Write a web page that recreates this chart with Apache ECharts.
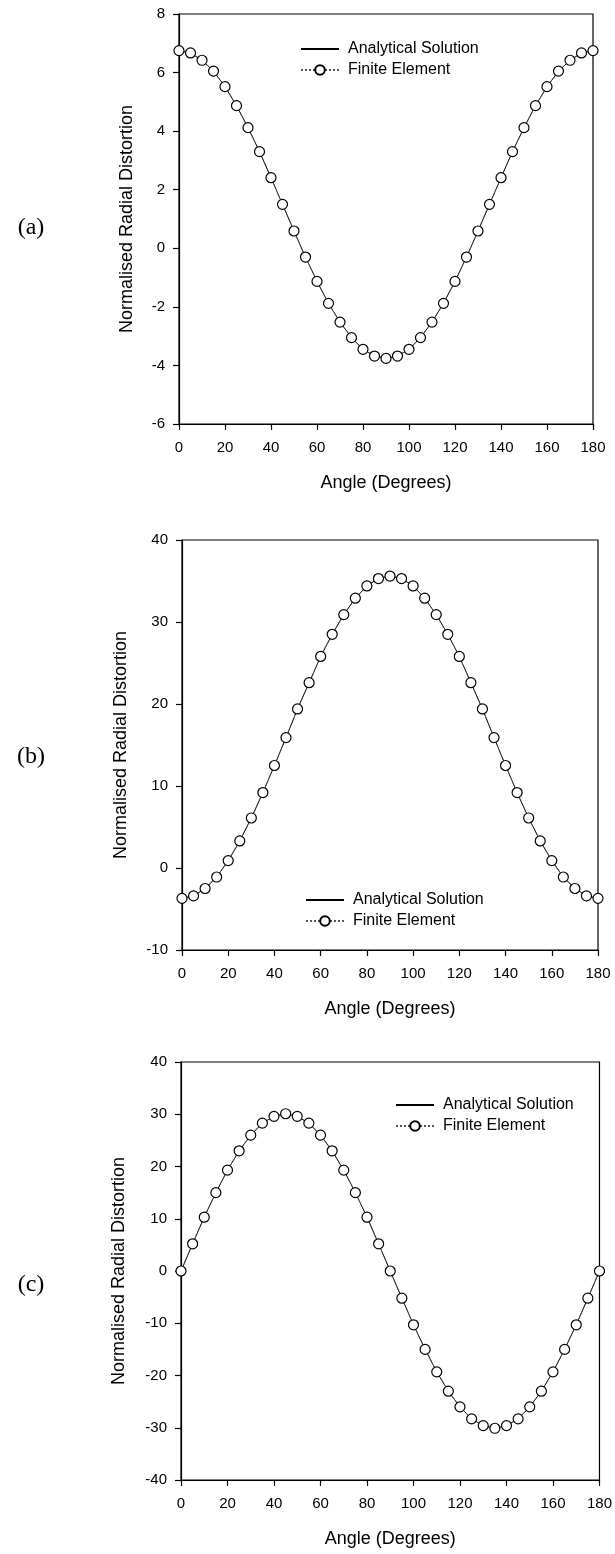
<!DOCTYPE html>
<html>
<head>
<meta charset="utf-8">
<script src="https://cdn.jsdelivr.net/npm/echarts@6/dist/echarts.min.js"></script>
<style>
html,body{margin:0;padding:0;background:#fff;}
#chart{width:615px;height:1554px;}
</style>
</head>
<body>
<div id="chart"></div>
<script>
// ---- data ----
const angles = [0,5,10,15,20,25,30,35,40,45,50,55,60,65,70,75,80,85,90,95,100,105,110,115,120,125,130,135,140,145,150,155,160,165,170,175,180];
const xTicks = [0,20,40,60,80,100,120,140,160,180];

const distortionA = [6.75,6.67,6.42,6.05,5.52,4.87,4.12,3.30,2.41,1.50,0.59,-0.30,-1.13,-1.88,-2.52,-3.05,-3.45,-3.68,-3.76,
                     -3.68,-3.45,-3.05,-2.52,-1.88,-1.13,-0.30,0.59,1.50,2.41,3.30,4.12,4.87,5.52,6.05,6.42,6.67,6.75];
const distortionB = [-3.7,-3.4,-2.5,-1.1,0.9,3.3,6.1,9.2,12.5,15.9,19.4,22.6,25.8,28.5,30.9,32.9,34.4,35.3,35.6,
                     35.3,34.4,32.9,30.9,28.5,25.8,22.6,19.4,15.9,12.5,9.2,6.1,3.3,0.9,-1.1,-2.5,-3.4,-3.7];
const distortionC = [0,5.2,10.3,15.0,19.3,23.0,26.0,28.3,29.6,30.1,29.6,28.3,26.0,23.0,19.3,15.0,10.3,5.2,0,
                     -5.2,-10.3,-15.0,-19.3,-23.0,-26.0,-28.3,-29.6,-30.1,-29.6,-28.3,-26.0,-23.0,-19.3,-15.0,-10.3,-5.2,0];

const yRanges = [ {min:-6, max:8, interval:2}, {min:-10, max:40, interval:10}, {min:-40, max:40, interval:10} ];
const panelLabels = ['(a)','(b)','(c)'];
const seriesNames = ['Analytical Solution','Finite Element'];
const xTitle = 'Angle (Degrees)';
const yTitle = 'Normalised Radial Distortion';

// ---- layout ----
const FONT = '"Liberation Sans", Arial, sans-serif';
const grids = [
  {left:179, top:14, width:414, height:410},
  {left:182, top:540, width:416, height:410},
  {left:181, top:1062, width:423, height:418}
];
const yNameGaps = [43, 52, 53];
const legendPos = [ {left:300, top:41}, {left:305, top:892}, {left:395, top:1097} ];
const labelPos = [ [31,228], [31,757], [31,1285] ];
const panelData = [distortionA, distortionB, distortionC];

const option = {
  animation:false,
  backgroundColor:'#fff',
  grid: grids.map(g => Object.assign({show:true, borderColor:'#000', borderWidth:1.2, backgroundColor:'transparent'}, g)),
  xAxis: grids.map((g,i) => ({
    type:'value', gridIndex:i, min:0, max:180, interval:20,
    axisLine:{show:true, onZero:false, lineStyle:{color:'#000', width:1.2}},
    axisTick:{show:true, inside:false, length:6, lineStyle:{color:'#000', width:1.2}},
    splitLine:{show:false},
    axisLabel:{color:'#000', fontSize:15, fontFamily:FONT, margin:16, showMinLabel:true, showMaxLabel:true},
    name:xTitle, nameLocation:'middle', nameGap:50,
    nameTextStyle:{color:'#000', fontSize:18, fontFamily:FONT}
  })),
  yAxis: grids.map((g,i) => ({
    type:'value', gridIndex:i, min:yRanges[i].min, max:yRanges[i].max, interval:yRanges[i].interval,
    axisLine:{show:true, onZero:false, lineStyle:{color:'#000', width:1.2}},
    axisTick:{show:true, inside:false, length:6, lineStyle:{color:'#000', width:1.2}},
    splitLine:{show:false},
    axisLabel:{color:'#000', fontSize:15, fontFamily:FONT, margin:14, showMinLabel:true, showMaxLabel:true},
    name:yTitle, nameLocation:'middle', nameGap:yNameGaps[i],
    nameTextStyle:{color:'#000', fontSize:18, fontFamily:FONT}
  })),
  legend: legendPos.map(p => ({
    left:p.left, top:p.top, orient:'vertical', itemWidth:38, itemHeight:12, itemGap:5, padding:0,
    data:[
      {name:seriesNames[0], itemStyle:{color:'rgba(0,0,0,0)', borderWidth:0, opacity:0}},
      {name:seriesNames[1]}
    ],
    selectedMode:false,
    textStyle:{color:'#000', fontSize:16, fontFamily:FONT, lineHeight:16, padding:[0,0,0,4]}
  })),
  series: [],
  graphic: labelPos.map((p,i) => ({
    type:'text', x:p[0], y:p[1],
    style:{text:panelLabels[i], font:'24px "Liberation Serif", "Times New Roman", serif', fill:'#000', textAlign:'center', textVerticalAlign:'middle'}
  }))
};

panelData.forEach((vals,i) => {
  const pts = angles.map((a,k) => [a, vals[k]]);
  option.series.push({
    name:seriesNames[0], type:'line', xAxisIndex:i, yAxisIndex:i, data:pts,
    showSymbol:false, symbol:'none', color:'#000',
    lineStyle:{color:'#000', width:1}, z:2, silent:true
  });
  option.series.push({
    name:seriesNames[1], type:'line', xAxisIndex:i, yAxisIndex:i, data:pts,
    symbol:'circle', symbolSize:10, showSymbol:true, color:'#000',
    lineStyle:{color:'#555', width:1, type:'dotted'},
    itemStyle:{color:'#fff', borderColor:'#000', borderWidth:1.2}, z:3, silent:true
  });
});

const chart = echarts.init(document.getElementById('chart'), null, {renderer:'canvas'});
chart.setOption(option);
</script>
</body>
</html>
